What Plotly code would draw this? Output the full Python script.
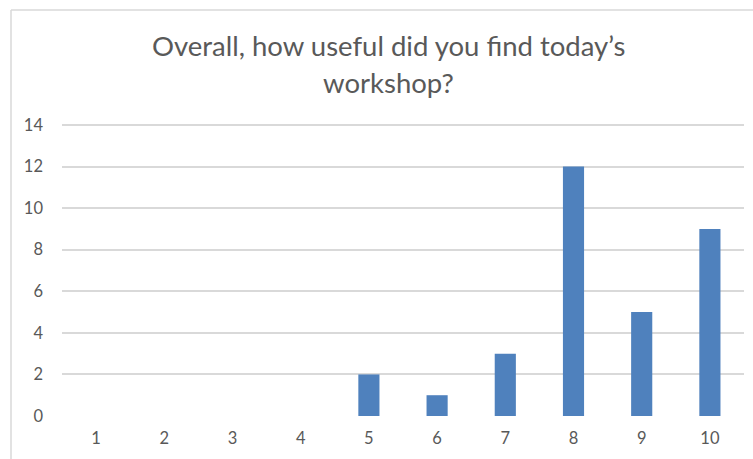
import plotly.graph_objects as go

categories = ["1", "2", "3", "4", "5", "6", "7", "8", "9", "10"]
values = [0, 0, 0, 0, 2, 1, 3, 12, 5, 9]
title_lines = ["Overall, how useful did you find today\u2019s", "workshop?"]
y_ticks = [0, 2, 4, 6, 8, 10, 12, 14]

fig = go.Figure(go.Bar(
    x=categories, y=values,
    marker=dict(color="#4F81BD", line=dict(width=0)),
))

FONT = "Lato"
TXT = "#595959"
UNIT = 291 / 14.0
YTOP = 14.3
L, R, B = 62, 9, 43
T = round(459 - B - YTOP * UNIT)
PW, PH = 753 - L - R, 459 - T - B
YMAX = PH / UNIT


def px(xp):
    return (xp - L) / PW


def py(yp):
    return (459 - B - yp) / PH


fig.update_layout(
    width=753, height=459,
    margin=dict(l=L, r=R, t=T, b=B, autoexpand=False),
    paper_bgcolor="white", plot_bgcolor="white",
    bargap=0.69,
    showlegend=False,
    font=dict(family=FONT, color=TXT),
    xaxis=dict(type="category", showgrid=False, showline=False, zeroline=False,
               automargin=False,
               ticks="", tickfont=dict(size=16.5, color=TXT), ticklabelstandoff=10),
    yaxis=dict(range=[0, YMAX], tickvals=y_ticks, showgrid=True, gridcolor="#D9D9D9",
               gridwidth=1.5, zeroline=False, showline=False, ticks="", automargin=False,
               tickfont=dict(size=16.5, color=TXT), ticklabelstandoff=18),
    annotations=[
        dict(text=title_lines[0], xref="paper", yref="paper", x=px(388), y=py(46),
             xanchor="center", yanchor="middle", showarrow=False,
             font=dict(size=27.5, color=TXT, family=FONT)),
        dict(text=title_lines[1], xref="paper", yref="paper", x=px(388), y=py(82),
             xanchor="center", yanchor="middle", showarrow=False,
             font=dict(size=27.5, color=TXT, family=FONT)),
    ],
    shapes=[
        dict(type="line", xref="paper", yref="paper",
             x0=px(11), x1=px(760), y0=py(10), y1=py(10),
             line=dict(color="#D9D9D9", width=1.5)),
        dict(type="line", xref="paper", yref="paper",
             x0=px(11), x1=px(11), y0=py(10), y1=py(470),
             line=dict(color="#D9D9D9", width=1.5)),
    ],
)

fig.write_html("out.html", config={"displayModeBar": False},
               post_script="document.body.style.margin='0';")
